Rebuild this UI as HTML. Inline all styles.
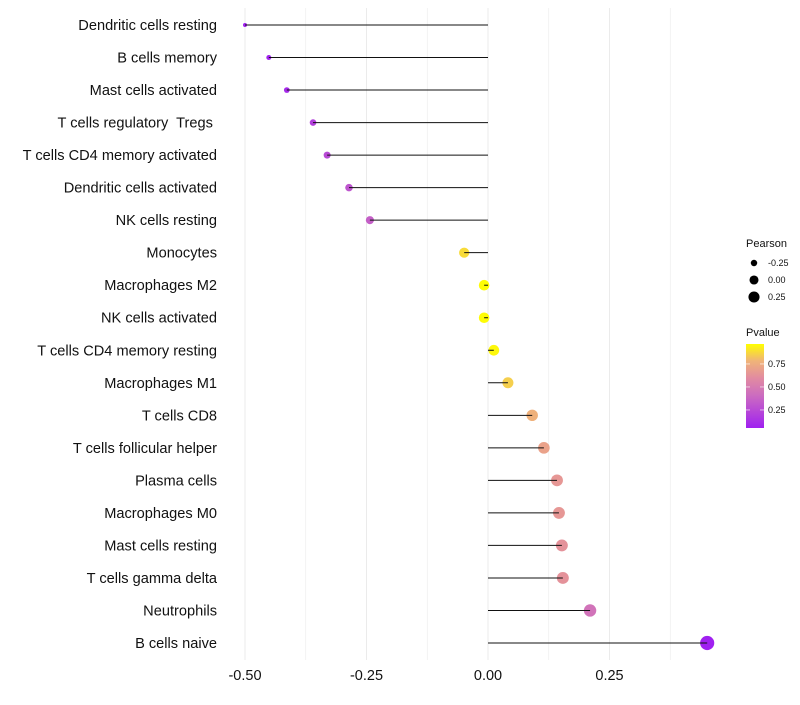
<!DOCTYPE html>
<html><head><meta charset="utf-8"><style>
body{margin:0;background:#fff;font-family:"Liberation Sans",sans-serif}
text{white-space:pre}
</style></head><body>
<svg id="c" width="800" height="700" xmlns="http://www.w3.org/2000/svg" font-family="Liberation Sans, sans-serif"></svg>
<script>
const categories=["Dendritic cells resting","B cells memory","Mast cells activated","T cells regulatory  Tregs ","T cells CD4 memory activated","Dendritic cells activated","NK cells resting","Monocytes","Macrophages M2","NK cells activated","T cells CD4 memory resting","Macrophages M1","T cells CD8","T cells follicular helper","Plasma cells","Macrophages M0","Mast cells resting","T cells gamma delta","Neutrophils","B cells naive"];
const pearson=[-0.5,-0.451,-0.414,-0.36,-0.331,-0.286,-0.243,-0.049,-0.008,-0.008,0.012,0.041,0.091,0.115,0.142,0.146,0.152,0.154,0.21,0.451];
const pvalue=[0.05,0.07,0.1,0.2,0.25,0.3,0.35,0.88,0.96,0.96,0.95,0.85,0.77,0.7,0.65,0.65,0.63,0.63,0.45,0.055];
const xTicks=[-0.5,-0.25,0,0.25];
const xTickLabels=["-0.50","-0.25","0.00","0.25"];
const sizeLegend=[-0.25,0,0.25];
const colorLegend=[0.25,0.5,0.75];
const svg=document.getElementById('c');const NS="http://www.w3.org/2000/svg";
function mk(t,a,p){const e=document.createElementNS(NS,t);for(const k in a)e.setAttribute(k,a[k]);(p||svg).appendChild(e);return e;}
const xS=v=>488+486*v;
const yS=i=>25+i*(618/19);
const rS=v=>Math.sqrt(4+Math.max(0,(v+0.5)/0.95)*46);
const pMin=0.054,pMax=0.967;
const stops=[[0,[160,32,240]],[0.4,[205,110,190]],[0.6,[226,140,160]],[0.8,[240,180,120]],[1,[255,255,0]]];
function col(p){let t=Math.max(0,Math.min(1,(p-pMin)/(pMax-pMin)));for(let i=1;i<stops.length;i++){if(t<=stops[i][0]){const a=stops[i-1],b=stops[i];const f=(t-a[0])/(b[0]-a[0]);const c=a[1].map((v,j)=>Math.round(v+(b[1][j]-v)*f));return `rgb(${c})`;}}return 'rgb(255,255,0)';}
for(const m of [-0.375,-0.125,0.125,0.375]){const g=mk('line',{x1:xS(m),x2:xS(m),y1:8,y2:660,stroke:'#ebebeb','stroke-width':0.6});}
xTicks.forEach((v,i)=>{const g=mk('line',{x1:xS(v),x2:xS(v),y1:8,y2:660,stroke:'#ebebeb','stroke-width':1});
const t=mk('text',{x:xS(v),y:680,'text-anchor':'middle','font-size':14.5,fill:'#111'});t.textContent=xTickLabels[i];});
categories.forEach((c,i)=>{const y=yS(i);
const t=mk('text',{x:217,y:y+5,'text-anchor':'end','font-size':14.6,fill:'#111'});t.textContent=c;
const p=mk('circle',{cx:xS(pearson[i]),cy:y,r:rS(pearson[i]),fill:col(pvalue[i])});
const l=mk('line',{x1:xS(0),x2:xS(pearson[i]),y1:y,y2:y,stroke:'#111','stroke-width':1});});
let t=mk('text',{x:746,y:247,'font-size':11,fill:'#111'});t.textContent='Pearson';
sizeLegend.forEach((v,i)=>{const y=263+i*17;const c=mk('circle',{cx:754,cy:y,r:rS(v)-0.8,fill:'#000'});
const tt=mk('text',{x:768,y:y+3,'font-size':9,fill:'#111'});tt.textContent=v.toFixed(2);});
t=mk('text',{x:746,y:336,'font-size':11,fill:'#111'});t.textContent='Pvalue';
const defs=mk('defs',{});const lg=mk('linearGradient',{id:'g',x1:0,y1:1,x2:0,y2:0},defs);
for(let k=0;k<=10;k++){mk('stop',{offset:k/10,'stop-color':col(pMin+(pMax-pMin)*k/10)},lg);}
const bar=mk('rect',{x:746,y:344,width:18,height:84,fill:'url(#g)'});
colorLegend.forEach(v=>{const y=428-(v-pMin)/(pMax-pMin)*84;mk('line',{x1:746,x2:750,y1:y,y2:y,stroke:'#fff','stroke-width':0.6});mk('line',{x1:760,x2:764,y1:y,y2:y,stroke:'#fff','stroke-width':0.6});
const tt=mk('text',{x:768,y:y+3,'font-size':9,fill:'#111'});tt.textContent=v.toFixed(2);});
</script></body></html>
